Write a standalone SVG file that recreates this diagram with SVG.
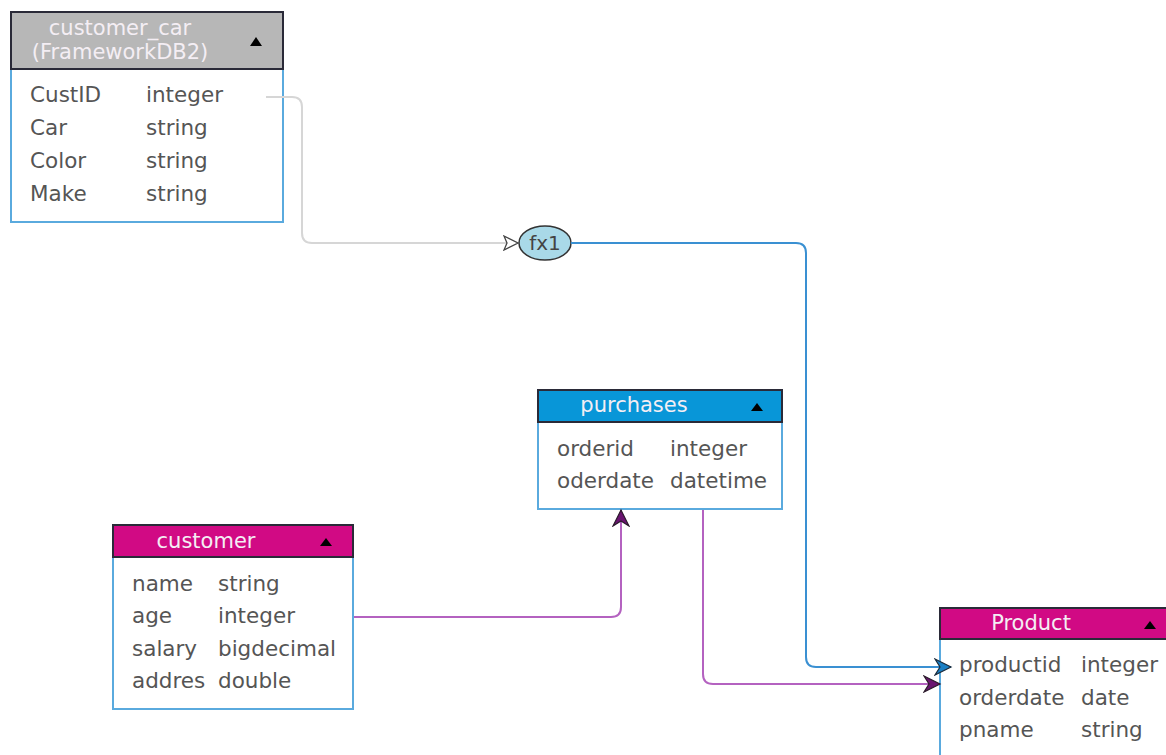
<svg xmlns="http://www.w3.org/2000/svg" width="1166" height="755" viewBox="0 0 1166 755">
<style>
.body{fill:#ffffff;stroke:#5aaade;stroke-width:2}
.hdr{stroke:#2a2a38;stroke-width:2}
.magenta{fill:#d10a84}
.blue{fill:#0896d8}
.gray{fill:#b7b7b7}
.ht{font-family:"DejaVu Sans",sans-serif;font-size:21px;fill:#f4eef4;text-anchor:middle}
.ft{font-family:"DejaVu Sans",sans-serif;font-size:21.5px;fill:#555555}
.tri{fill:#000000}
.conn{fill:none;stroke-width:2}
</style>
<defs>
<marker id="arrBlue" markerUnits="userSpaceOnUse" markerWidth="20" markerHeight="18" refX="17" refY="9" orient="auto">
<path d="M1,1 L17,9 L1,17 L6,9 Z" fill="#1a7fc4" stroke="#1a2a3a" stroke-width="1.2"/>
</marker>
<marker id="arrPurple" markerUnits="userSpaceOnUse" markerWidth="20" markerHeight="18" refX="17" refY="9" orient="auto">
<path d="M1,1 L17,9 L1,17 L6,9 Z" fill="#6a1470" stroke="#2a1a2a" stroke-width="1.2"/>
</marker>
<marker id="arrOpen" markerUnits="userSpaceOnUse" markerWidth="18" markerHeight="16" refX="15" refY="8" orient="auto">
<path d="M1,1 L15,8 L1,15 L4,8 Z" fill="#ffffff" stroke="#444444" stroke-width="1.3"/>
</marker>
</defs>
<rect width="1166" height="755" fill="#ffffff"/>

<g id="customer_car">
<rect class="body" x="11" y="69" width="272" height="153"/>
<rect class="hdr gray" x="11" y="12" width="272" height="57"/>
<text class="ht" x="120" y="35">customer_car</text>
<text class="ht" x="120" y="59">(FrameworkDB2)</text>
<path class="tri" d="M250,46 L256,37 L262,46 Z"/>
<text class="ft" x="30" y="102">CustID</text><text class="ft" x="146" y="102">integer</text>
<text class="ft" x="30" y="135">Car</text><text class="ft" x="146" y="135">string</text>
<text class="ft" x="30" y="168">Color</text><text class="ft" x="146" y="168">string</text>
<text class="ft" x="30" y="201">Make</text><text class="ft" x="146" y="201">string</text>
</g>

<g id="fx1">
<ellipse cx="545" cy="243" rx="26" ry="17" fill="#a9d9e8" stroke="#333333" stroke-width="1.5"/>
<text x="545" y="250" font-family="DejaVu Sans, sans-serif" font-size="20" fill="#444444" text-anchor="middle">fx1</text>
</g>

<g id="purchases">
<rect class="body" x="538" y="422" width="244" height="87"/>
<rect class="hdr blue" x="538" y="390" width="244" height="32"/>
<text class="ht" x="634" y="412">purchases</text>
<path class="tri" d="M751,411 L757,403 L763,411 Z"/>
<text class="ft" x="557" y="456">orderid</text><text class="ft" x="670" y="456">integer</text>
<text class="ft" x="557" y="488">oderdate</text><text class="ft" x="670" y="488">datetime</text>
</g>

<g id="customer">
<rect class="body" x="113" y="557" width="240" height="152"/>
<rect class="hdr magenta" x="113" y="525" width="240" height="32"/>
<text class="ht" x="206" y="548">customer</text>
<path class="tri" d="M320,546 L326,538 L332,546 Z"/>
<text class="ft" x="132" y="591">name</text><text class="ft" x="218" y="591">string</text>
<text class="ft" x="132" y="623">age</text><text class="ft" x="218" y="623">integer</text>
<text class="ft" x="132" y="656">salary</text><text class="ft" x="218" y="656">bigdecimal</text>
<text class="ft" x="132" y="688">addres</text><text class="ft" x="218" y="688">double</text>
</g>

<g id="Product">
<rect class="body" x="940" y="639" width="240" height="130"/>
<rect class="hdr magenta" x="940" y="608" width="240" height="31"/>
<text class="ht" x="1031" y="630">Product</text>
<path class="tri" d="M1144,629 L1150,621 L1156,629 Z"/>
<text class="ft" x="959" y="672">productid</text><text class="ft" x="1081" y="672">integer</text>
<text class="ft" x="959" y="705">orderdate</text><text class="ft" x="1081" y="705">date</text>
<text class="ft" x="959" y="737">pname</text><text class="ft" x="1081" y="737">string</text>
</g>

<g id="connectors">
<path class="conn" stroke="#d6d6d6" d="M266,97 L292,97 Q302,97 302,107 L302,233 Q302,243 312,243 L518,243" marker-end="url(#arrOpen)"/>
<path class="conn" stroke="#3a90d2" d="M571,243 L796,243 Q806,243 806,253 L806,657 Q806,667 816,667 L951,667" marker-end="url(#arrBlue)"/>
<path class="conn" stroke="#b462c0" d="M354,617 L611,617 Q621,617 621,607 L621,510" marker-end="url(#arrPurple)"/>
<path class="conn" stroke="#b462c0" d="M703,510 L703,674 Q703,684 713,684 L940,684" marker-end="url(#arrPurple)"/>
</g>
</svg>
